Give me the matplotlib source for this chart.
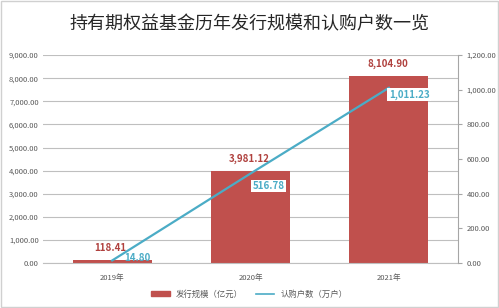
import matplotlib.pyplot as plt
from matplotlib.patches import Rectangle

plt.rcParams['font.family'] = ['Noto Sans CJK SC', 'DejaVu Sans']

# data
years = ['2019年', '2020年', '2021年']
scale = [118.41, 3981.12, 8104.90]          # 发行规模（亿元）
accounts = [14.80, 516.78, 1011.23]         # 认购户数（万户）

bar_color = '#C0504D'
line_color = '#4BACC6'
grid_color = '#BFBFBF'
tick_color = '#595959'

fig = plt.figure(figsize=(4.99, 3.08), dpi=100)
ax = fig.add_axes([0.0862, 0.146, 0.8318, 0.675])
ax2 = ax.twinx()

x = list(range(len(years)))
ax.bar(x, scale, width=0.57, color=bar_color, zorder=2)
ax.set_xlim(-0.5, 2.5)
ax.set_ylim(0, 9000)
ax.set_yticks(range(0, 9001, 1000))
ax.set_yticklabels([f'{v:,.2f}' for v in range(0, 9001, 1000)])
ax.yaxis.grid(True, color=grid_color, linewidth=0.8, zorder=0)
ax.set_axisbelow(True)
ax.set_xticks(x)
ax.set_xticklabels(years)
ax.tick_params(axis='x', length=0, labelsize=5.5, colors=tick_color, pad=8)
ax.tick_params(axis='y', length=0, labelsize=5.5, colors=tick_color, pad=3)
for s in ['top', 'left', 'right']:
    ax.spines[s].set_visible(False)
ax.spines['bottom'].set_color(grid_color)

ax2.plot(x, accounts, color=line_color, linewidth=1.6, zorder=3)
ax2.set_ylim(0, 1200)
ax2.set_yticks(range(0, 1201, 200))
ax2.set_yticklabels([f'{v:,.2f}' for v in range(0, 1201, 200)])
ax2.tick_params(axis='y', length=3, direction='out', labelsize=5.5,
                colors=tick_color, pad=3)
ax2.tick_params(axis='y', color='#A6A6A6')
for s in ['top', 'left', 'bottom']:
    ax2.spines[s].set_visible(False)
ax2.spines['right'].set_color('#A6A6A6')

# bar labels
for xi, v in zip(x, scale):
    ax.annotate(f'{v:,.2f}', (xi, v), xytext=(-1, 5), textcoords='offset points',
                ha='center', va='bottom', fontsize=7, fontweight='bold',
                color='#B0413E', zorder=5)

# line labels
offsets = [(9, 2), (1.5, -9), (0, -5)]
for xi, v, off in zip(x, accounts, offsets):
    ax2.annotate(f'{v:,.2f}', (xi, v), xytext=off, textcoords='offset points',
                 ha='left', va='center', fontsize=7, fontweight='bold',
                 color=line_color, zorder=6,
                 bbox=dict(boxstyle='square,pad=0.15', fc='white', ec='none')
                 if xi > 0 else None)

fig.text(0.5, 0.922, '持有期权益基金历年发行规模和认购户数一览', ha='center',
         va='center', fontsize=13, color='#262626')

# legend
h1 = Rectangle((0, 0), 1, 1, color=bar_color)
h2, = plt.plot([], [], color=line_color, linewidth=1.2)
fig.legend([h1, h2], ['发行规模（亿元）', '认购户数（万户）'], loc='center',
           bbox_to_anchor=(0.5, 0.045), ncol=2, frameon=False, fontsize=6,
           handlelength=2.2, handleheight=0.6, columnspacing=1.5,
           labelcolor=tick_color)

fig.patches.append(Rectangle((0.002, 0.003), 0.996, 0.994, transform=fig.transFigure,
                             fill=False, ec='#D0D0D0', lw=1))

fig.savefig('out.png', dpi=100)
